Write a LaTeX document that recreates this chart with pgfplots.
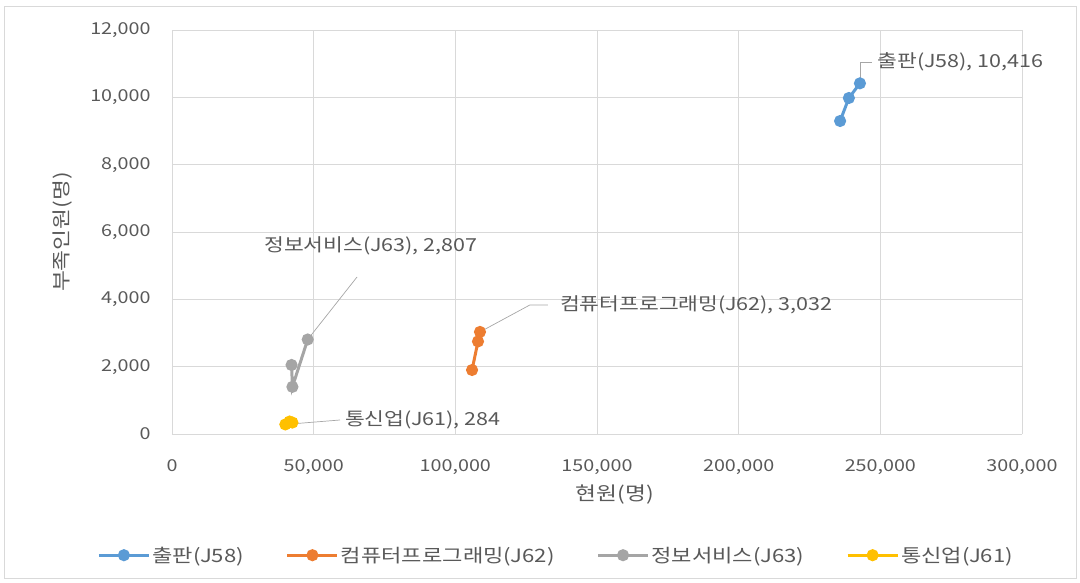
\documentclass[border=0pt]{standalone}
\usepackage{pgfplots}
\pgfplotsset{compat=1.18}
\usepackage{fontspec}
\setmainfont[FakeStretch=1.2]{Noto Sans CJK KR}
\definecolor{cblue}{HTML}{5B9BD5}
\definecolor{corange}{HTML}{ED7D31}
\definecolor{cgray}{HTML}{A5A5A5}
\definecolor{cyellow}{HTML}{FFC000}
\definecolor{gridc}{HTML}{D9D9D9}
\definecolor{txt}{HTML}{595959}
\definecolor{leader}{HTML}{A6A6A6}
\begin{document}
\begin{tikzpicture}
\useasboundingbox (-172bp,-149bp) rectangle (908bp,434bp);
\draw[gridc, line width=0.8bp] (-168bp,-144bp) rectangle (904bp,428bp);
\begin{axis}[
  at={(0,0)}, anchor=origin,
  scale only axis, width=850bp, height=404bp,
  xmin=0, xmax=300000, ymin=0, ymax=12000,
  scaled ticks=false,
  xtick={0,50000,100000,150000,200000,250000,300000},
  xticklabels={0,{50,000},{100,000},{150,000},{200,000},{250,000},{300,000}},
  ytick={0,2000,4000,6000,8000,10000,12000},
  yticklabels={0,{2,000},{4,000},{6,000},{8,000},{10,000},{12,000}},
  tick label style={font=\fontsize{16.5}{18}\selectfont, text=txt},
  xticklabel style={yshift=-22bp},
  yticklabel style={xshift=-18bp},
  major tick length=0pt,
  grid=major,
  major grid style={gridc, line width=0.8bp},
  axis line style={gridc, line width=0.8bp},
  axis x line*=bottom, axis y line*=left,
  xlabel={현원(명)}, ylabel={부족인원(명)},
  every axis x label/.style={at={(axis description cs:0.521,-0.151)}, anchor=center, font=\fontsize{19}{21}\selectfont, text=txt},
  every axis y label/.style={at={(axis description cs:-0.129,0.5)}, anchor=center, rotate=90, font=\fontsize{19}{21}\selectfont, text=txt},
  legend style={at={(axis description cs:0.452,-0.30)}, anchor=center, draw=none,
    font=\fontsize{18.5}{20}\selectfont, text=txt, legend columns=4,
    /tikz/every even column/.append style={column sep=40bp}},
  legend image code/.code={
    \draw[#1, mark=none, line width=3bp] (0bp,0bp) -- (50bp,0bp);
    \fill[#1] (25bp,0bp) circle (4.5bp);
  },
  clip=false,
]
\addplot[color=cblue, line width=3bp, mark=*, mark size=4.5bp, mark options={fill=cblue, draw=cblue}]
  coordinates {(235800,9297) (238900,9980) (242800,10416)};
\addlegendentry{출판(J58)}
\addplot[color=corange, line width=3bp, mark=*, mark size=4.5bp, mark options={fill=corange, draw=corange}]
  coordinates {(105900,1901) (108000,2750) (108700,3032)};
\addlegendentry{컴퓨터프로그래밍(J62)}
\addplot[color=cgray, line width=3bp, mark=*, mark size=4.5bp, mark options={fill=cgray, draw=cgray}]
  coordinates {(42200,2050) (42500,1400) (47900,2807)};
\addlegendentry{정보서비스(J63)}
\addplot[color=cyellow, line width=3bp, mark=*, mark size=4.5bp, mark options={fill=cyellow, draw=cyellow}]
  coordinates {(42500,340) (41500,370) (40000,284)};
\addlegendentry{통신업(J61)}

% data labels with leader lines
\draw[leader, line width=0.7bp] (axis cs:242800,10416) -- (axis cs:242800,11050) -- (axis cs:247000,11050);
\node[anchor=west, text=txt, font=\fontsize{18}{20}\selectfont, inner sep=0pt] at (axis cs:249000,11050) {출판(J58), 10,416};
\draw[leader, line width=0.7bp] (axis cs:108700,3032) -- (axis cs:126300,3832) -- (axis cs:132700,3832);
\node[anchor=west, text=txt, font=\fontsize{18}{20}\selectfont, inner sep=0pt] at (axis cs:136900,3832) {컴퓨터프로그래밍(J62), 3,032};
\draw[leader, line width=0.7bp] (axis cs:47900,2807) -- (axis cs:65300,4663);
\node[anchor=center, text=txt, font=\fontsize{18}{20}\selectfont, inner sep=0pt] at (axis cs:70200,5584) {정보서비스(J63), 2,807};
\draw[leader, line width=0.7bp] (axis cs:40000,284) -- (axis cs:59300,416);
\node[anchor=west, text=txt, font=\fontsize{18}{20}\selectfont, inner sep=0pt] at (axis cs:61000,416) {통신업(J61), 284};
\end{axis}
\end{tikzpicture}
\end{document}
